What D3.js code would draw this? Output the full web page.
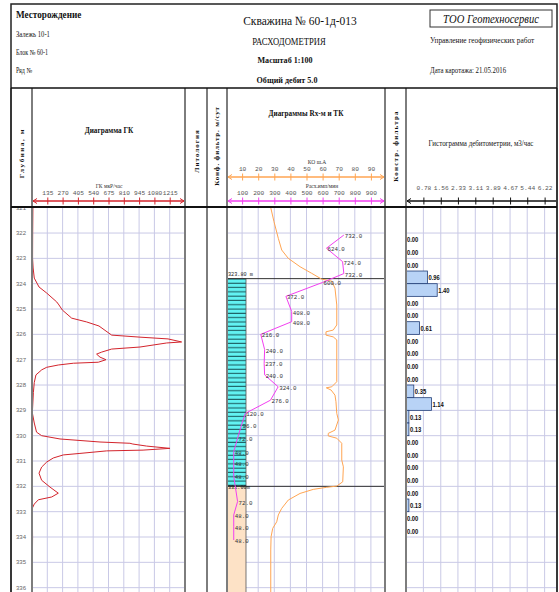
<!DOCTYPE html>
<html>
<head>
<meta charset="utf-8">
<script src="https://cdn.jsdelivr.net/npm/d3@7"></script>
<style>
  body { margin: 0; background: #fff; }
  svg { display: block; font-family: "Liberation Serif", serif; }
</style>
</head>
<body>
<div id="chart"></div>
<script>
const depthTicks = [321, 322, 323, 324, 325, 326, 327, 328, 329, 330, 331, 332, 333, 334, 335, 336];

// ГК, мкР/час
const gkDepth = [321.0, 322.0, 323.0, 323.38, 323.78, 324.13, 324.37, 324.72, 324.84, 325.04, 325.36, 325.51, 325.67, 325.87,
  326.03, 326.11, 326.18, 326.3, 326.34, 326.5, 326.58, 326.7, 326.78, 326.9, 327.0, 327.1, 327.14, 327.21, 327.3, 327.4,
  327.6, 327.9, 328.3, 329.1, 329.5, 329.86, 330.0, 330.13, 330.25, 330.3, 330.33, 330.41, 330.5, 330.57, 330.6, 330.7,
  330.76, 330.88, 331.04, 331.24, 331.48, 331.76, 332.03, 332.27, 332.42, 332.53, 332.7, 332.86, 334.0, 335.5, 336.5];
const gkValue = [8, 6, 5, 10, 20, 62, 130, 218, 238, 268, 350, 482, 591, 653,
  703, 953, 1200, 1320, 1188, 953, 703, 615, 570, 600, 653, 585, 365, 232, 130, 86,
  35, 20, 12, 3, 20, 40, 85, 247, 600, 864, 890, 1011, 1217, 980, 659, 423,
  276, 188, 130, 85, 62, 85, 159, 232, 174, 56, 20, 3, 5, 3, 5];

// ТК
const tkDepth = [321.0, 321.55, 322.21, 322.67, 323.0, 323.33, 323.59, 323.82, 323.9, 324.18, 324.84, 325.63, 325.83, 325.9,
  326.03, 326.1, 326.22, 327.87, 328.07, 328.11, 328.2, 328.4, 328.66, 329.12, 329.38, 329.78, 329.91, 330.01, 330.1, 330.3,
  330.96, 331.23, 331.82, 331.99, 332.04, 332.12, 332.28, 332.54, 332.87, 333.13, 333.4, 333.66, 333.99, 334.51, 336.5];
const tkValue = [27.8, 29.8, 32.5, 34.6, 38.7, 46, 53.2, 59.4, 65.7, 67.7, 68.8, 68.8, 66.6, 62.1,
  62.1, 66.6, 68.8, 68.8, 65.7, 62.3, 65.3, 67.7, 68.3, 68.8, 69.8, 67.7, 63.5, 63.5, 68.8, 71.9,
  71.9, 72.9, 72.5, 68.8, 62.3, 54.2, 46, 38.7, 34.6, 32.5, 31.5, 29, 28, 27.8, 27.8];

// Расходомер, имп/мин
const rxDepth = [322.08, 322.6, 323.13, 323.6, 323.95, 324.5, 325.1, 325.5, 326.0, 326.6, 327.15, 327.6,
  328.07, 328.6, 329.12, 329.58, 330.1, 330.63, 331.09, 331.6, 332.6, 333.13, 333.6, 334.12];
const rxValue = [732, 624, 724, 732, 600, 372, 408, 408, 216, 240, 237, 240,
  324, 276, 120, 96, 72, 48, 48, 48, 72, 48, 48, 48];

// Гистограмма дебитометрии, м3/час (интервалы по 0.5 м)
const histTop = [322.0, 322.5, 323.0, 323.5, 324.0, 324.5, 325.0, 325.5, 326.0, 326.5, 327.0, 327.5,
  328.0, 328.5, 329.0, 329.5, 330.0, 330.5, 331.0, 331.5, 332.0, 332.5, 333.0, 333.5];
const histValue = [0, 0, 0, 0.96, 1.40, 0, 0, 0.61, 0, 0, 0, 0,
  0.35, 1.14, 0.13, 0.13, 0, 0, 0, 0, 0, 0.13, 0, 0];

// конструкция фильтра
const filterTop = [323.8, 332.0];
const filterBottom = [332.0, 337.0];
const filterKind = ["screen", "sump"];
const filterLabel = ["323.80 m", "332.00m"];

const gkTicks = [135, 270, 405, 540, 675, 810, 945, 1080, 1215];
const tkTicks = [10, 20, 30, 40, 50, 60, 70, 80, 90];
const rxTicks = [100, 200, 300, 400, 500, 600, 700, 800, 900];
const histTicks = [0.78, 1.56, 2.33, 3.11, 3.89, 4.67, 5.44, 6.22];

// ---- layout ----
const width = 559, height = 592;
const frameL = 11, frameR = 557, frameT = 4;
const headBottom = 88, dataTop = 207;
const colX = [11, 32, 185, 207, 227, 385, 406, 557];
const gridColor = "#c9c9e6";

const svg = d3.select("#chart").append("svg")
  .attr("width", width)
  .attr("height", height)
  .attr("viewBox", [0, 0, width, height]);

const y = d3.scaleLinear().domain([321, 337]).range([207.7, 613]);
const xGK = d3.scaleLinear().domain([0, 1350]).range([32, 185]);
const xTK = d3.scaleLinear().domain([0, 100]).range([226, 387]);
const xRx = d3.scaleLinear().domain([0, 1000]).range([226, 387]);
const xQ = d3.scaleLinear().domain([0, 7]).range([406, 562]);

svg.append("clipPath").attr("id", "data-clip")
  .append("rect").attr("x", frameL).attr("y", dataTop).attr("width", frameR - frameL).attr("height", height - dataTop);
svg.append("clipPath").attr("id", "mid-clip")
  .append("rect").attr("x", 227).attr("y", dataTop).attr("width", 158).attr("height", height - dataTop);
svg.append("clipPath").attr("id", "hist-clip")
  .append("rect").attr("x", 406).attr("y", dataTop).attr("width", 151).attr("height", height - dataTop);

// filter hatch
const pat = svg.append("defs").append("pattern")
  .attr("id", "screen")
  .attr("patternUnits", "userSpaceOnUse")
  .attr("width", 20).attr("height", 4.3);
pat.append("rect").attr("width", 20).attr("height", 4.3).attr("fill", "#62f2f2");
pat.append("rect").attr("y", 3.2).attr("width", 20).attr("height", 1.1).attr("fill", "#1d5f63");

// small helper for condensed text
function label(g, x, yy, s, o = {}) {
  let tr = `translate(${x},${yy})`;
  if (o.rot) tr += " rotate(-90)";
  if (o.sx) tr += ` scale(${o.sx},1)`;
  return g.append("text")
    .attr("transform", tr)
    .attr("font-size", o.size || 8)
    .attr("font-weight", o.bold ? "bold" : null)
    .attr("font-style", o.italic ? "italic" : null)
    .attr("font-family", o.font || null)
    .attr("letter-spacing", o.ls || null)
    .attr("text-anchor", o.anchor || "start")
    .attr("fill", o.fill || "#111")
    .text(s);
}

// ---- grid ----
const grid = svg.append("g").attr("clip-path", "url(#data-clip)")
  .attr("stroke", gridColor).attr("stroke-width", 1);

const panels = [
  { x0: 32, x1: 185, scale: xGK, ticks: gkTicks },
  { x0: 227, x1: 385, scale: xTK, ticks: tkTicks },
  { x0: 406, x1: 557, scale: xQ, ticks: histTicks }
];
for (let p of panels) {
  grid.append("g").selectAll("line")
    .data(p.ticks)
    .join("line")
    .attr("x1", d => p.scale(d)).attr("x2", d => p.scale(d))
    .attr("y1", dataTop).attr("y2", height);
  grid.append("g").selectAll("line")
    .data(depthTicks.slice(1))
    .join("line")
    .attr("x1", p.x0).attr("x2", p.x1)
    .attr("y1", d => y(d)).attr("y2", d => y(d));
}

// depth labels
svg.append("g").attr("clip-path", "url(#data-clip)")
  .selectAll("text")
  .data(depthTicks)
  .join("text")
  .attr("x", 21)
  .attr("y", d => y(d) + 2)
  .attr("text-anchor", "middle")
  .attr("font-family", "Liberation Sans")
  .attr("font-size", 6)
  .attr("fill", "#666")
  .text(d => d);

// ---- filter construction in middle panel ----
const mid = svg.append("g").attr("clip-path", "url(#mid-clip)");
mid.selectAll("rect.filter")
  .data(filterTop)
  .join("rect")
  .attr("class", "filter")
  .attr("x", 227.5)
  .attr("width", 18.5)
  .attr("y", d => y(d))
  .attr("height", (d, i) => y(filterBottom[i]) - y(d))
  .attr("fill", (d, i) => filterKind[i] === "screen" ? "url(#screen)" : "#fde2c6")
  .attr("stroke", "#555")
  .attr("stroke-width", 0.8);

mid.selectAll("line.cut")
  .data(filterTop)
  .join("line")
  .attr("class", "cut")
  .attr("x1", 227).attr("x2", 385)
  .attr("y1", d => y(d)).attr("y2", d => y(d))
  .attr("stroke", "#333")
  .attr("stroke-width", 1);

mid.selectAll("text.cut")
  .data(filterTop)
  .join("text")
  .attr("class", "cut")
  .attr("transform", (d, i) => `translate(228,${i === 0 ? y(d) - 2.5 : y(d) + 3}) scale(0.9,1)`)
  .attr("font-family", "Liberation Mono")
  .attr("font-size", 5.8)
  .attr("fill", "#222")
  .text((d, i) => filterLabel[i]);

// TK curve
const tkData = tkDepth.map((d, i) => ({ d, v: tkValue[i] }));
mid.append("path")
  .datum(tkData)
  .attr("fill", "none")
  .attr("stroke", "#ffa552")
  .attr("stroke-width", 1)
  .attr("d", d3.line().x(p => xTK(p.v)).y(p => y(p.d)));

// flowmeter curve
const rxData = rxDepth.map((d, i) => ({ d, v: rxValue[i] }));
mid.append("path")
  .datum(rxData)
  .attr("fill", "none")
  .attr("stroke", "#f23ff0")
  .attr("stroke-width", 1)
  .attr("d", d3.line().x(p => xRx(p.v)).y(p => y(p.d)));

mid.append("g").selectAll("text")
  .data(rxData)
  .join("text")
  .attr("x", p => xRx(p.v) + 1)
  .attr("y", p => y(p.d) + 3)
  .attr("font-family", "Liberation Mono")
  .attr("font-size", 5.8)
  .attr("fill", "#333")
  .text(p => p.v.toFixed(1));

// ---- GK curve ----
const gkData = gkDepth.map((d, i) => ({ d, v: gkValue[i] }));
svg.append("path")
  .attr("clip-path", "url(#data-clip)")
  .datum(gkData)
  .attr("fill", "none")
  .attr("stroke", "#d3242c")
  .attr("stroke-width", 1)
  .attr("d", d3.line().x(p => xGK(p.v)).y(p => y(p.d)));

// ---- histogram ----
const hist = svg.append("g").attr("clip-path", "url(#hist-clip)");
hist.selectAll("rect")
  .data(histValue.map((v, i) => ({ top: histTop[i], v })).filter(r => r.v > 0))
  .join("rect")
  .attr("x", xQ(0))
  .attr("y", r => y(r.top))
  .attr("width", r => xQ(r.v) - xQ(0))
  .attr("height", r => y(r.top + 0.5) - y(r.top))
  .attr("fill", "#b8d3f6")
  .attr("stroke", "#223f77")
  .attr("stroke-width", 0.8);

hist.selectAll("text")
  .data(histValue.map((v, i) => ({ top: histTop[i], v })))
  .join("text")
  .attr("transform", r => `translate(${xQ(r.v) + 1},${(y(r.top) + y(r.top + 0.5)) / 2 + 3}) scale(0.78,1)`)
  .attr("font-family", "Liberation Sans")
  .attr("font-weight", "bold")
  .attr("font-size", 7.5)
  .attr("fill", "#111")
  .text(r => r.v.toFixed(2));

// ---- header axes ----
function arrowHead(g, x, yy, dir, color) {
  g.append("path")
    .attr("d", `M${x + dir * 4},${yy - 2.5} L${x},${yy} L${x + dir * 4},${yy + 2.5}`)
    .attr("fill", "none")
    .attr("stroke", color)
    .attr("stroke-width", 1);
}

function headerAxis(scale, ticks, yy, color, x0, x1, pad, fmt, both) {
  const g = svg.append("g")
    .attr("transform", `translate(0,${yy})`)
    .call(d3.axisTop(scale).tickValues(ticks).tickSize(3).tickPadding(pad).tickFormat(fmt));
  g.select(".domain").remove();
  g.selectAll(".tick line").attr("y1", 3.5).attr("y2", -3.5).attr("stroke", color);
  g.selectAll(".tick text")
    .attr("font-family", "Liberation Mono")
    .attr("font-size", 6.2)
    .attr("fill", "#555");
  g.append("line")
    .attr("x1", x0 + 1).attr("x2", x1 - 1)
    .attr("stroke", color)
    .attr("stroke-width", 1.5);
  arrowHead(g, x0 + 1, 0, 1, color);
  if (both) arrowHead(g, x1 - 1, 0, -1, color);
  return g;
}

headerAxis(xGK, gkTicks, 201, "#d3242c", 32, 185, 3, d => d, true);
headerAxis(xTK, tkTicks, 177, "#ffa552", 227, 385, 3, d => d, true);
headerAxis(xRx, rxTicks, 201, "#f23ff0", 227, 385, 3, d => d, true);
headerAxis(xQ, histTicks, 201, "#111", 406, 557, 8, d => d.toFixed(2), false);

// ---- header texts ----
const head = svg.append("g");
label(head, 16, 18, "Месторождение", { size: 10, bold: true, sx: 0.92 });
label(head, 16, 37, "Залежь 10-1", { size: 8.5, sx: 0.78 });
label(head, 16, 55, "Блок № 60-1", { size: 7.5, sx: 0.8 });
label(head, 16, 73, "Ряд №", { size: 7.5, sx: 0.8 });

label(head, 300, 25, "Скважина № 60-1д-013", { size: 12.5, anchor: "middle", sx: 0.92 });
label(head, 289, 45, "РАСХОДОМЕТРИЯ", { size: 10, anchor: "middle", sx: 0.86 });
label(head, 285, 63, "Масштаб 1:100", { size: 8.5, bold: true, anchor: "middle", sx: 0.95 });
label(head, 287, 83, "Общий дебит 5.0", { size: 8.5, bold: true, anchor: "middle", sx: 0.95 });

head.append("rect")
  .attr("x", 430).attr("y", 10).attr("width", 122).attr("height", 17)
  .attr("fill", "none").attr("stroke", "#333").attr("stroke-width", 1);
label(head, 491, 23, "ТОО Геотехносервис", { size: 11.5, italic: true, anchor: "middle", sx: 0.92 });
label(head, 430, 43, "Управление геофизических работ", { size: 8.5, sx: 0.86 });
label(head, 430, 73, "Дата каротажа: 21.05.2016", { size: 8.5, sx: 0.8 });

// column titles
label(head, 24, 153, "Глубина, м", { size: 7, bold: true, rot: true, anchor: "middle", ls: 1.6 });
label(head, 109, 133, "Диаграмма ГК", { size: 8.5, bold: true, anchor: "middle", sx: 0.85 });
label(head, 109, 188, "ГК мкР/час", { size: 6.5, anchor: "middle", sx: 0.85, fill: "#333" });
label(head, 199, 151, "Литология", { size: 7, bold: true, rot: true, anchor: "middle", ls: 1 });
label(head, 219, 146, "Конф. фильтр. м/сут", { size: 7, bold: true, rot: true, anchor: "middle", ls: 0.8 });
label(head, 306, 116, "Диаграммы Rх-м и ТК", { size: 8.5, bold: true, anchor: "middle", sx: 0.85 });
label(head, 317, 164, "КО ш.А", { size: 6.5, anchor: "middle", sx: 0.85, fill: "#333" });
label(head, 322, 188, "Расх.имп/мин", { size: 6.5, anchor: "middle", sx: 0.85, fill: "#333" });
label(head, 398, 146, "Констр. фильтра", { size: 7, bold: true, rot: true, anchor: "middle", ls: 1.2 });
label(head, 481, 146, "Гистограмма дебитометрии, м3/час", { size: 8.5, anchor: "middle", sx: 0.82 });

// ---- frame and column borders ----
const frame = svg.append("g");
frame.append("g").selectAll("line")
  .data(colX)
  .join("line")
  .attr("x1", d => d).attr("x2", d => d)
  .attr("y1", headBottom).attr("y2", height)
  .attr("stroke", "#7d7d7d")
  .attr("stroke-width", 2);
frame.append("rect")
  .attr("x", frameL).attr("y", frameT)
  .attr("width", frameR - frameL).attr("height", height + 10)
  .attr("fill", "none").attr("stroke", "#222").attr("stroke-width", 1.5);
frame.append("line")
  .attr("x1", frameL).attr("x2", frameR).attr("y1", headBottom).attr("y2", headBottom)
  .attr("stroke", "#111").attr("stroke-width", 1.5);
frame.append("line")
  .attr("x1", frameL).attr("x2", frameR).attr("y1", dataTop).attr("y2", dataTop)
  .attr("stroke", "#111").attr("stroke-width", 2);
</script>
</body>
</html>
